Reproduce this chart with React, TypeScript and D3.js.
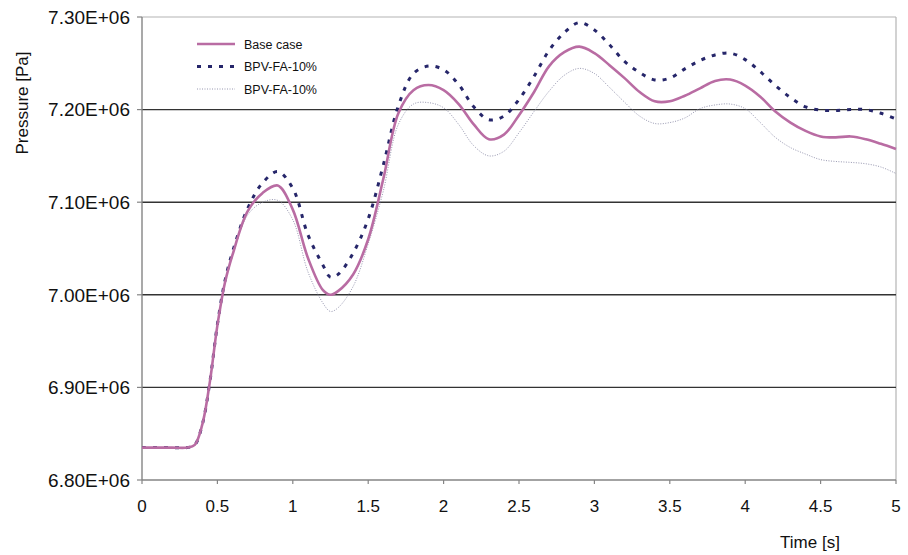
import React from 'react'
import * as d3 from 'd3'

// time points [s]
const times = [0, 0.1, 0.2, 0.3, 0.35, 0.4, 0.45, 0.5, 0.55, 0.6, 0.7, 0.8, 0.9, 1.0, 1.1, 1.2, 1.25, 1.3, 1.4, 1.5, 1.6, 1.7, 1.8, 1.9, 2.0, 2.1, 2.2, 2.3, 2.4, 2.5, 2.6, 2.7, 2.8, 2.9, 3.0, 3.1, 3.2, 3.3, 3.4, 3.5, 3.6, 3.7, 3.8, 3.9, 4.0, 4.1, 4.2, 4.3, 4.4, 4.5, 4.6, 4.7, 4.8, 4.9, 5.0]

// pressure (x1e6 Pa)
const baseCase = [6.835, 6.835, 6.835, 6.835, 6.838, 6.860, 6.906, 6.967, 7.013, 7.043, 7.090, 7.110, 7.118, 7.092, 7.040, 7.005, 7.000, 7.004, 7.022, 7.060, 7.125, 7.196, 7.221, 7.2265, 7.221, 7.206, 7.184, 7.168, 7.173, 7.194, 7.219, 7.247, 7.262, 7.268, 7.261, 7.248, 7.234, 7.219, 7.209, 7.209, 7.215, 7.223, 7.231, 7.2325, 7.226, 7.214, 7.198, 7.186, 7.177, 7.171, 7.170, 7.171, 7.168, 7.163, 7.1575]
const bpvDashed = [6.835, 6.835, 6.835, 6.835, 6.838, 6.860, 6.906, 6.968, 7.015, 7.046, 7.093, 7.121, 7.133, 7.115, 7.065, 7.032, 7.019, 7.022, 7.045, 7.082, 7.140, 7.204, 7.239, 7.247, 7.243, 7.227, 7.203, 7.189, 7.193, 7.211, 7.236, 7.264, 7.283, 7.294, 7.286, 7.270, 7.252, 7.240, 7.232, 7.234, 7.244, 7.253, 7.259, 7.261, 7.254, 7.241, 7.226, 7.213, 7.203, 7.1995, 7.199, 7.200, 7.200, 7.196, 7.190]
const bpvDotted = [6.835, 6.835, 6.835, 6.835, 6.838, 6.860, 6.906, 6.967, 7.013, 7.043, 7.086, 7.100, 7.102, 7.081, 7.025, 6.991, 6.982, 6.986, 7.009, 7.055, 7.112, 7.184, 7.206, 7.2075, 7.202, 7.184, 7.161, 7.150, 7.155, 7.175, 7.198, 7.220, 7.237, 7.2445, 7.239, 7.224, 7.208, 7.193, 7.185, 7.186, 7.191, 7.201, 7.205, 7.206, 7.201, 7.186, 7.170, 7.159, 7.152, 7.146, 7.144, 7.143, 7.1415, 7.138, 7.131]

const seriesNames = ['Base case', 'BPV-FA-10%', 'BPV-FA-10%']
const xTicks = [0, 0.5, 1, 1.5, 2, 2.5, 3, 3.5, 4, 4.5, 5]
const yTicks = [6.8, 6.9, 7.0, 7.1, 7.2, 7.3]
const yTickLabels = ['6.80E+06', '6.90E+06', '7.00E+06', '7.10E+06', '7.20E+06', '7.30E+06']

export default function App() {
  const width = 908, height = 555
  const left = 142, right = 896, top = 17, bottom = 480

  const x = d3.scaleLinear().domain([0, 5]).range([left, right])
  const y = d3.scaleLinear().domain([6.8, 7.3]).range([bottom, top])

  const line = d3.line<number>()
    .x((d, i) => x(times[i]))
    .y(d => y(d))
    .curve(d3.curveCatmullRom.alpha(0.5))

  const styles = [
    { stroke: '#b96ca3', width: 2.6, dash: 'none' },
    { stroke: '#26266a', width: 3, dash: '4 7' },
    { stroke: '#8a8aa6', width: 0.9, dash: '1 1.5' },
  ]
  const data = [baseCase, bpvDashed, bpvDotted]
  const font = 'Liberation Sans, Arial, sans-serif'

  return (
    <svg width={width} height={height} style={{ position: 'absolute', left: 0, top: 0, background: '#fff' }}>
      {/* frame */}
      <line x1={left} x2={right} y1={top} y2={top} stroke="#b4b4b4" strokeWidth={1.2} />
      <line x1={right} x2={right} y1={top} y2={bottom} stroke="#b4b4b4" strokeWidth={1.2} />
      {/* gridlines */}
      {yTicks.slice(1, -1).map(v => (
        <line key={v} x1={left} x2={right} y1={y(v)} y2={y(v)} stroke="#333" strokeWidth={1.4} />
      ))}
      {/* axes */}
      <line x1={left} x2={left} y1={top} y2={bottom} stroke="#858585" strokeWidth={1.4} />
      <line x1={left} x2={right} y1={bottom} y2={bottom} stroke="#858585" strokeWidth={1.4} />
      {yTicks.map((v, i) => (
        <g key={v}>
          <line x1={left - 5} x2={left} y1={y(v)} y2={y(v)} stroke="#858585" strokeWidth={1.2} />
          <text x={130} y={y(v)} dy="0.36em" textAnchor="end" fontFamily={font} fontSize={19} fill="#111">{yTickLabels[i]}</text>
        </g>
      ))}
      {xTicks.map(v => (
        <g key={v}>
          <line x1={x(v)} x2={x(v)} y1={bottom} y2={bottom + 4} stroke="#858585" strokeWidth={1.2} />
          <text x={x(v)} y={512} textAnchor="middle" fontFamily={font} fontSize={17} fill="#111">{v}</text>
        </g>
      ))}
      <text transform="translate(28,103) rotate(-90)" textAnchor="middle" fontFamily={font} fontSize={17} fill="#111">Pressure [Pa]</text>
      <text x={810} y={548} textAnchor="middle" fontFamily={font} fontSize={17} fill="#111">Time [s]</text>

      {/* series */}
      {[2, 1, 0].map(k => (
        <path key={k} d={line(data[k]) || ''} fill="none" stroke={styles[k].stroke}
          strokeWidth={styles[k].width} strokeDasharray={styles[k].dash} />
      ))}

      {/* legend */}
      {seriesNames.map((name, i) => {
        const ly = 44 + i * 22.5
        return (
          <g key={i}>
            <line x1={197} x2={235} y1={ly} y2={ly} stroke={styles[i].stroke}
              strokeWidth={styles[i].width} strokeDasharray={styles[i].dash} />
            <text x={244} y={ly} dy="0.36em" fontFamily={font} fontSize={12.5} fill="#111">{name}</text>
          </g>
        )
      })}
    </svg>
  )
}
